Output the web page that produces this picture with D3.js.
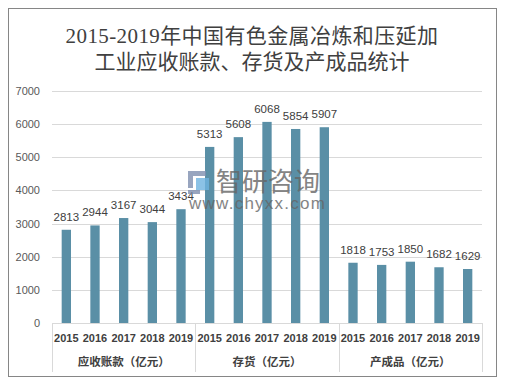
<!DOCTYPE html>
<html>
<head>
<meta charset="utf-8">
<script src="https://cdn.jsdelivr.net/npm/d3@7/dist/d3.min.js"></script>
<style>
  body { margin: 0; background: #fff; }
  svg { display: block; }
</style>
</head>
<body>
<svg class="chart" width="514" height="383"></svg>
<script>
// data
var years = ["2015", "2016", "2017", "2018", "2019"];
var groups = ["应收账款（亿元）", "存货（亿元）", "产成品（亿元）"];
var receivables = [2813, 2944, 3167, 3044, 3434];
var inventory = [5313, 5608, 6068, 5854, 5907];
var finished = [1818, 1753, 1850, 1682, 1629];
var yTicks = [0, 1000, 2000, 3000, 4000, 5000, 6000, 7000];
var titleLines = ["2015-2019年中国有色金属冶炼和压延加", "工业应收账款、存货及产成品统计"];

var series = [receivables, inventory, finished];
var rows = [];
groups.forEach(function(g, gi) {
  years.forEach(function(y, yi) {
    rows.push({ group: g, gi: gi, year: y, key: gi + "|" + y, value: series[gi][yi] });
  });
});

var svg = d3.select("svg.chart");
var cjk = "'Noto Sans CJK SC', 'Noto Sans', sans-serif";
var latin = "'Liberation Sans', 'Noto Sans CJK SC', sans-serif";

// outer frame
svg.append("rect")
  .attr("x", 8.5).attr("y", 8.5)
  .attr("width", 488).attr("height", 368)
  .attr("fill", "#fff")
  .attr("stroke", "#868686");

// title
svg.append("g").selectAll("text")
  .data(titleLines)
  .enter().append("text")
  .attr("x", 252)
  .attr("y", function(d, i) { return 43 + i * 25.5; })
  .attr("text-anchor", "middle")
  .style("font-family", "'Liberation Serif', 'Noto Sans CJK SC', serif")
  .style("font-size", "21px")
  .style("letter-spacing", function(d, i) { return i == 0 ? "0.4px" : "0px"; })
  .style("fill", "#404040")
  .text(function(d) { return d; });

var plotL = 52, plotR = 482, plotT = 91, plotB = 323;

var x = d3.scaleBand()
  .domain(rows.map(function(d) { return d.key; }))
  .range([plotL, plotR])
  .paddingInner(0.675)
  .paddingOuter(0.3375);

var y = d3.scaleLinear()
  .domain([0, 7000])
  .range([plotB, plotT]);

// gridlines + y labels
var yAxis = d3.axisLeft(y)
  .tickValues(yTicks)
  .tickSize(-(plotR - plotL))
  .tickPadding(12)
  .tickFormat(d3.format("d"));

var gy = svg.append("g")
  .attr("transform", "translate(" + plotL + ",0)")
  .call(yAxis);
gy.select(".domain").remove();
gy.selectAll(".tick line")
  .attr("stroke", "#d9d9d9")
  .attr("shape-rendering", "crispEdges");
gy.selectAll(".tick text")
  .style("font-family", latin)
  .style("font-size", "11px")
  .style("fill", "#595959");

// bars
svg.append("g").selectAll("rect")
  .data(rows)
  .enter().append("rect")
  .attr("x", function(d) { return x(d.key); })
  .attr("y", function(d) { return y(d.value); })
  .attr("width", x.bandwidth())
  .attr("height", function(d) { return plotB - y(d.value); })
  .attr("fill", "#5a8fa6");

// value labels
svg.append("g").selectAll("text")
  .data(rows)
  .enter().append("text")
  .attr("x", function(d) { return x(d.key) + x.bandwidth() / 2; })
  .attr("y", function(d) { return y(d.value) - 9; })
  .attr("text-anchor", "middle")
  .style("font-family", latin)
  .style("font-size", "11.5px")
  .style("fill", "#404040")
  .text(function(d) { return d.value; });

// category axis (two levels)
var axisG = svg.append("g");
axisG.append("line")
  .attr("x1", plotL).attr("x2", plotR)
  .attr("y1", plotB + 0.5).attr("y2", plotB + 0.5)
  .attr("stroke", "#d9d9d9");

var groupW = (plotR - plotL) / groups.length;
var bounds = d3.range(groups.length + 1).map(function(i) { return plotL + i * groupW; });
axisG.selectAll("line.sep")
  .data(bounds)
  .enter().append("line")
  .attr("class", "sep")
  .attr("x1", function(d) { return Math.round(d) + 0.5; })
  .attr("x2", function(d) { return Math.round(d) + 0.5; })
  .attr("y1", plotB).attr("y2", 372)
  .attr("stroke", "#d9d9d9");

axisG.selectAll("text.year")
  .data(rows)
  .enter().append("text")
  .attr("class", "year")
  .attr("x", function(d) { return x(d.key) + x.bandwidth() / 2; })
  .attr("y", 342)
  .attr("text-anchor", "middle")
  .style("font-family", latin)
  .style("font-weight", "bold")
  .style("font-size", "11px")
  .style("fill", "#404040")
  .text(function(d) { return d.year; });

axisG.selectAll("text.group")
  .data(groups)
  .enter().append("text")
  .attr("class", "group")
  .attr("x", function(d, i) { return plotL + (i + 0.5) * groupW; })
  .attr("y", 366)
  .attr("text-anchor", "middle")
  .style("font-family", cjk)
  .style("font-weight", "bold")
  .style("font-size", "11.5px")
  .style("fill", "#404040")
  .text(function(d) { return d; });

// watermark
var wm = svg.append("g").attr("opacity", 0.8);
wm.append("path")
  .attr("d", "M188,171 H206 V176 H193 V188 H188 Z M188,190 H200 V194 H188 Z")
  .attr("fill", "#7f8fb0");
wm.append("rect")
  .attr("x", 196).attr("y", 178)
  .attr("width", 13).attr("height", 12)
  .attr("fill", "#6fb4e0");
wm.append("text")
  .attr("x", 216).attr("y", 191)
  .style("font-family", cjk)
  .style("font-size", "26px")
  .style("fill", "#666")
  .text("智研咨询");
wm.append("text")
  .attr("x", 189).attr("y", 209)
  .attr("textLength", 136)
  .style("font-family", latin)
  .style("font-size", "17px")
  .style("fill", "#666")
  .text("www.chyxx.com");
</script>
</body>
</html>
